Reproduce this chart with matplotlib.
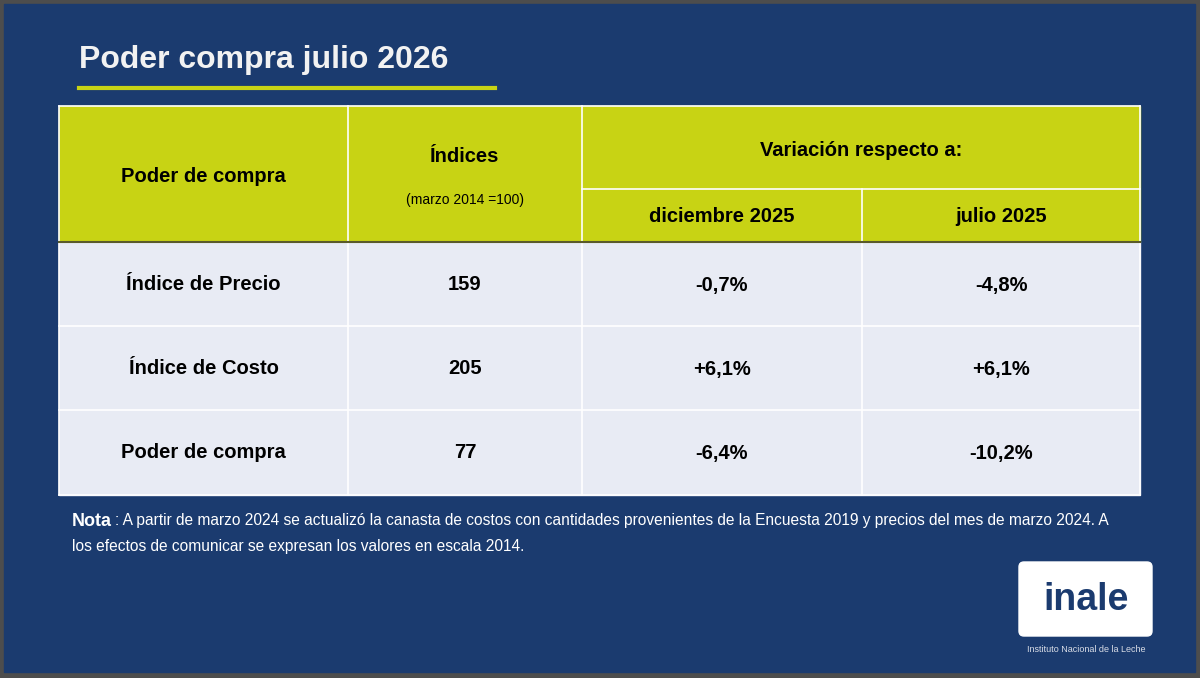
import matplotlib
matplotlib.use("Agg")
import matplotlib.pyplot as plt
from matplotlib.patches import Rectangle, FancyBboxPatch

title = "Poder compra julio 2026"
row_labels = ["Índice de Precio", "Índice de Costo", "Poder de compra"]
indices = ["159", "205", "77"]
var_dic = ["-0,7%", "+6,1%", "-6,4%"]
var_jul = ["-4,8%", "+6,1%", "-10,2%"]
col_heads = ["Poder de compra", "Índices", "(marzo 2014 =100)", "Variación respecto a:", "diciembre 2025", "julio 2025"]

plt.rcParams['font.family'] = ['Liberation Sans', 'DejaVu Sans']
fig = plt.figure(figsize=(12, 6.78), dpi=100)
ax = fig.add_axes([0, 0, 1, 1])
ax.set_xlim(0, 1200); ax.set_ylim(678, 0); ax.axis('off')
fig.patch.set_facecolor('#4d4d4d')
navy = '#1b3b6f'
ax.add_patch(Rectangle((4, 4), 1191, 668, color=navy))

ax.text(79, 60, title, color='#f2f2f2', fontsize=23, fontweight='bold', va='center', ha='left')
ax.plot([79, 495], [88, 88], color='#c8d314', lw=3)

yel = '#c8d314'; body = '#e8ebf4'
xs = [59, 348, 582, 862, 1140]
ax.add_patch(Rectangle((59, 106), 1081, 136, color=yel))
ax.add_patch(Rectangle((59, 242), 1081, 253, color=body))
wl = dict(color='white', lw=1.2)
for x in xs:
    ax.plot([x, x], [189 if x == 862 else 106, 495], **wl)
ax.plot([59, 1140], [106, 106], **wl)
ax.plot([582, 1140], [189, 189], **wl)
for y in [326, 410, 495]:
    ax.plot([59, 1140], [y, y], **wl)
ax.plot([59, 1140], [242, 242], color='#5a5a2a', lw=1.5)

hs = dict(fontsize=14.5, fontweight='bold', color='black', ha='center', va='center')
ax.text((59+348)/2, 176, col_heads[0], **hs)
ax.text((348+582)/2, 156, col_heads[1], **hs)
ax.text((348+582)/2, 200, col_heads[2], fontsize=10, color='black', ha='center', va='center')
ax.text((582+1140)/2, 151, col_heads[3], **hs)
ax.text((582+862)/2, 216, col_heads[4], **hs)
ax.text((862+1140)/2, 216, col_heads[5], **hs)

for i in range(3):
    yc = 285 + i*84
    vals = [row_labels[i], indices[i], var_dic[i], var_jul[i]]
    for j in range(4):
        ax.text((xs[j]+xs[j+1])/2, yc, vals[j], **hs)

ax.text(72, 521, "Nota", color='white', fontsize=13, fontweight='bold', va='center', ha='left')
ax.text(115, 521, ": A partir de marzo 2024 se actualizó la canasta de costos con cantidades provenientes de la Encuesta 2019 y precios del mes de marzo 2024. A",
        color='white', fontsize=11.2, va='center', ha='left')
ax.text(72, 546, "los efectos de comunicar se expresan los valores en escala 2014.", color='white', fontsize=11.2, va='center', ha='left')

ax.add_patch(FancyBboxPatch((1019, 562), 133, 74, boxstyle="round,pad=0,rounding_size=5", color='white'))
ax.text(1086, 600, "inale", color=navy, fontsize=27, fontweight='bold', ha='center', va='center')
ax.text(1086, 649, "Instituto Nacional de la Leche", color='#d8dce6', fontsize=6.5, ha='center', va='center')

fig.savefig("out.png", dpi=100, facecolor=fig.get_facecolor())
